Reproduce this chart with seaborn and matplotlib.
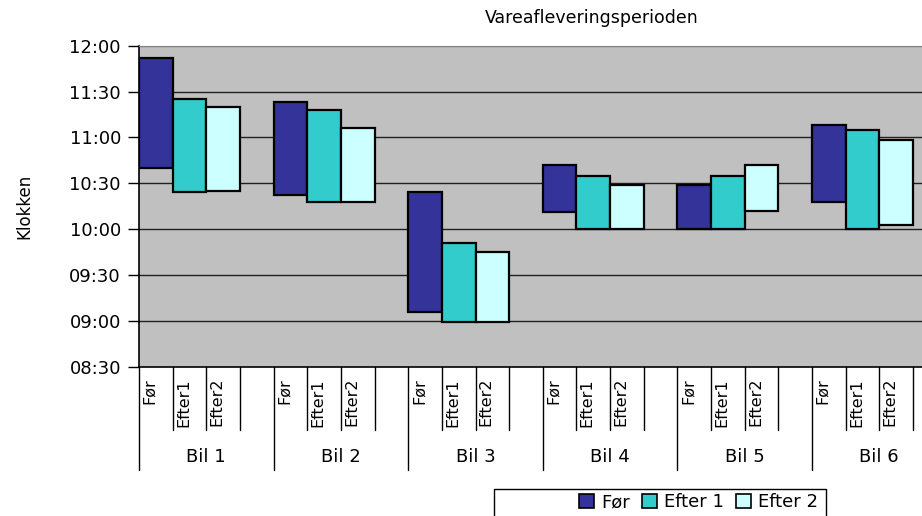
import numpy as np
import pandas as pd
import matplotlib
matplotlib.use("Agg")
import matplotlib.pyplot as plt
import matplotlib.transforms as mtransforms
from matplotlib.patches import Patch, Rectangle
import seaborn as sns

# data (start / end of the delivery window)
cars = ["Bil 1", "Bil 2", "Bil 3", "Bil 4", "Bil 5", "Bil 6"]
periods = ["Før", "Efter1", "Efter2"]
legend_names = ["Før", "Efter 1", "Efter 2"]

start_for = ["10:40", "10:22", "09:06", "10:11", "10:00", "10:18"]
end_for = ["11:52", "11:23", "10:24", "10:42", "10:29", "11:08"]
start_efter1 = ["10:24", "10:18", "08:59", "10:00", "10:00", "10:00"]
end_efter1 = ["11:25", "11:18", "09:51", "10:35", "10:35", "11:05"]
start_efter2 = ["10:25", "10:18", "08:59", "10:00", "10:12", "10:03"]
end_efter2 = ["11:20", "11:06", "09:45", "10:29", "10:42", "10:58"]

colors = ["#333399", "#33CCCC", "#CCFFFF"]


def to_hours(s):
    h, m = s.split(":")
    return int(h) + int(m) / 60


rows = []
for per, st, en in zip(periods, [start_for, start_efter1, start_efter2],
                       [end_for, end_efter1, end_efter2]):
    for car, a, b in zip(cars, st, en):
        rows.append({"car": car, "period": per, "start": to_hours(a), "end": to_hours(b)})
df = pd.DataFrame(rows)
df["slot"] = df["car"].map({c: i * 4 for i, c in enumerate(cars)}) + df["period"].map(
    {p: k for k, p in enumerate(periods)})

sns.set_style("white")
plt.rcParams["font.family"] = ["DejaVu Sans"]
plt.rcParams.update({"text.color": "black", "axes.labelcolor": "black",
                     "xtick.color": "black", "ytick.color": "black"})

fig = plt.figure(figsize=(9.22, 5.16), dpi=100)
W, H = 922, 516
ax_left, ax_right, ax_top, ax_bottom = 139, 946.6, 45.7, 366.7
ax = fig.add_axes([ax_left / W, 1 - ax_bottom / H, (ax_right - ax_left) / W, (ax_bottom - ax_top) / H])
ax.set_facecolor("#C0C0C0")

# gridlines
for t in np.arange(9.0, 12.01, 0.5):
    ax.axhline(t, color="#202020" if t < 12 else "#808080", lw=1, zorder=1)

for k, per in enumerate(periods):
    sub = df[df["period"] == per]
    ax.bar(sub["slot"] + 0.5, sub["end"] - sub["start"], bottom=sub["start"], width=1.0,
           color=colors[k], edgecolor="black", linewidth=1.6, zorder=3)

ax.set_xlim(0, 24)
ax.set_ylim(8.5, 12)
yt = np.arange(8.5, 12.01, 0.5)
ax.set_yticks(yt)
ax.set_yticklabels(["%02d:%02d" % (int(t), round((t % 1) * 60)) for t in yt], fontsize=13)
ax.tick_params(axis="y", direction="out", length=8, width=1, color="black", pad=5, left=True)
ax.set_xticks([])

for s in ["left", "bottom"]:
    ax.spines[s].set_color("black")
    ax.spines[s].set_linewidth(1.2)
ax.spines["top"].set_color("#808080")
ax.spines["right"].set_visible(False)

# two-level category axis
trans = mtransforms.blended_transform_factory(ax.transData, ax.transAxes)
px = 1 / (ax_bottom - ax_top)
for i in range(25):
    depth = (470 - ax_bottom) if i % 4 == 0 else (430 - ax_bottom)
    ax.plot([i, i], [0, -depth * px], color="black", lw=1, transform=trans, clip_on=False)
for _, r in df.iterrows():
    ax.text(r["slot"] + 0.1, -(378 - ax_bottom) * px, r["period"], rotation=90, ha="left", va="top",
            fontsize=11.5, transform=trans, clip_on=False)
for i, car in enumerate(cars):
    ax.text(i * 4 + 2, -(457 - ax_bottom) * px, car, ha="center", va="center",
            fontsize=13, transform=trans, clip_on=False)

ax.set_ylabel("Klokken", fontsize=12, labelpad=0)
ax.yaxis.set_label_coords((33 - ax_left) / (ax_right - ax_left), 0.5)

fig.text(592 / W, 1 - 18 / H, "Vareafleveringsperioden", ha="center", va="center", fontsize=12.5)

# legend in a plain box at the bottom
fig.patches.append(Rectangle((494 / W, 1 - 530 / H), (826 - 494) / W, (530 - 489) / H,
                             transform=fig.transFigure, facecolor="white", edgecolor="black", lw=1))
handles = [Patch(facecolor=c, edgecolor="black", lw=1.2) for c in colors]
fig.legend(handles, legend_names, loc="center right", bbox_to_anchor=(818 / W, 1 - 502 / H),
           ncol=3, frameon=False, fontsize=13, handlelength=0.8, handleheight=0.8,
           handletextpad=0.4, columnspacing=0.7, borderaxespad=0, borderpad=0)

fig.savefig("out.png", dpi=100)
